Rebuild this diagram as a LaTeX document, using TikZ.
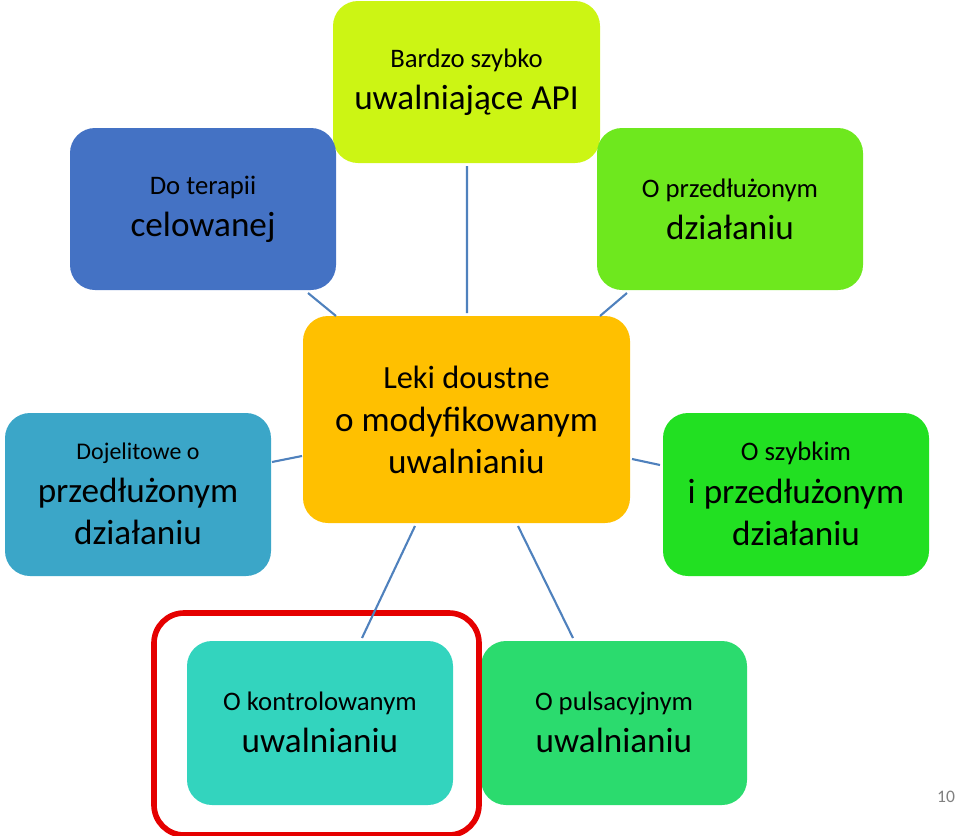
\documentclass[tikz,border=0pt]{standalone}
\usepackage{fontspec}
\setmainfont{Carlito}
\begin{document}
\begin{tikzpicture}[x=0.01cm,y=-0.01cm,
 box/.style={rounded corners=0.25cm,align=center,text=black,inner sep=0pt},
 conn/.style={draw=blue!50!cyan!60!black,line width=0.5pt}]
\useasboundingbox (0,0) rectangle (960,836);
\definecolor{cA}{HTML}{CCF514}\definecolor{cB}{HTML}{4472C4}\definecolor{cC}{HTML}{6EE81E}
\definecolor{cD}{HTML}{3BA6C8}\definecolor{cE}{HTML}{FFC000}\definecolor{cF}{HTML}{22E022}
\definecolor{cG}{HTML}{33D4BE}\definecolor{cH}{HTML}{2BDB6E}\definecolor{ln}{HTML}{4F81BD}
\fill[cA,rounded corners=0.25cm] (333,1) rectangle (600,163);
\node[box] (a) at (466.5,82) {\fontsize{7.6}{9}\selectfont Bardzo szybko\\uwalniające API};
\fill[cB,rounded corners=0.25cm] (70,128) rectangle (336,290);
\node[box] (b) at (203,209) {\fontsize{7.6}{9}\selectfont Do terapii\\celowanej};
\fill[cC,rounded corners=0.25cm] (597,128) rectangle (863,290);
\node[box] (c) at (730,209) {\fontsize{7.6}{9}\selectfont O przedłużonym\\działaniu};
\fill[cD,rounded corners=0.25cm] (5,413) rectangle (271,576);
\node[box] (d) at (138,494) {\fontsize{6.8}{8}\selectfont Dojelitowe o\\przedłużonym\\działaniu};
\fill[cE,rounded corners=0.25cm] (303,316) rectangle (630,523);
\node[box] (e) at (466.5,420) {\fontsize{9.2}{10.5}\selectfont Leki doustne\\o modyfikowanym\\uwalnianiu};
\fill[cF,rounded corners=0.25cm] (663,413) rectangle (929,576);
\node[box] (f) at (796,494) {\fontsize{7.6}{9}\selectfont O szybkim\\i przedłużonym\\działaniu};
\fill[cG,rounded corners=0.25cm] (187,641) rectangle (453,805);
\node[box] (g) at (320,722) {\fontsize{7.6}{9}\selectfont O kontrolowanym\\uwalnianiu};
\fill[cH,rounded corners=0.25cm] (481,641) rectangle (747,805);
\node[box] (h) at (614,722) {\fontsize{7.6}{9}\selectfont O pulsacyjnym\\uwalnianiu};
\draw[red!90!black,line width=1.6pt,rounded corners=0.3cm] (154,613) rectangle (479,835);
\node[text=gray] (n) at (946,797) {\fontsize{5}{6}\selectfont 10};
\coordinate (b1) at (308,293); \coordinate (e1) at (336,316);
\coordinate (a1) at (467,166); \coordinate (e2) at (467,313);
\coordinate (c1) at (627,293); \coordinate (e3) at (600,316);
\coordinate (d1) at (272,462); \coordinate (e4) at (302,456);
\coordinate (f1) at (660,465); \coordinate (e5) at (632,459);
\coordinate (g1) at (362,638); \coordinate (e6) at (415,526);
\coordinate (h1) at (573,638); \coordinate (e7) at (518,526);
\draw[ln,line width=0.6pt] (b1)--(e1) (a1)--(e2) (c1)--(e3) (d1)--(e4) (f1)--(e5) (g1)--(e6) (h1)--(e7);
\end{tikzpicture}
\end{document}
